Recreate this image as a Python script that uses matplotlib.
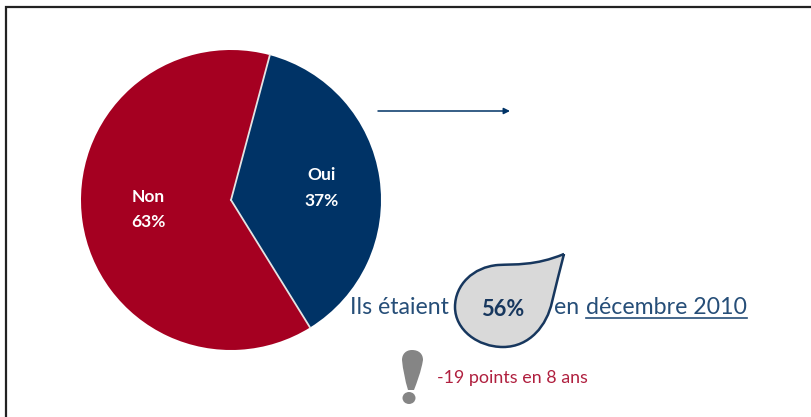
import numpy as np
import matplotlib
matplotlib.use("Agg")
import matplotlib.pyplot as plt
from matplotlib.path import Path
from matplotlib.patches import PathPatch, Ellipse, FancyArrowPatch

plt.rcParams['font.family'] = ['Lato', 'DejaVu Sans']

W, H = 812, 417
labels = ["Oui", "Non"]
values = [37, 63]
colors = ["#003366", "#A50021"]
drop_value = "56%"
before_text = "Ils étaient"
after_text = "en"
date_text = "décembre 2010"
note_text = "-19 points en 8 ans"

NAVY = "#003366"


def Y(y):
    # picture pixels count from the top
    return H - y


fig = plt.figure(figsize=(W / 100, H / 100), dpi=100)
ax = fig.add_axes([0, 0, 1, 1])

cx, cy, radius = 231, Y(200), 150
wedges, _ = ax.pie(values, radius=radius, center=(cx, cy), startangle=75,
                   counterclock=False, colors=colors)
ax.set_xlim(0, W)
ax.set_ylim(0, H)
ax.set_aspect("auto")
ax.axis("off")

# light line between the slices only, none on the outer edge
for w in wedges:
    a = np.deg2rad(w.theta1)
    ax.plot([cx, cx + radius * np.cos(a)], [cy, cy + radius * np.sin(a)], color="#e4e4e4", lw=1.3)

# slice labels
label_pos = [(322, 188), (148, 209.5)]
for lab, val, (x, y) in zip(labels, values, label_pos):
    ax.text(x, Y(y), f"{lab}\n{val}%", color="white", fontsize=12.5, fontweight="bold",
            ha="center", va="center", linespacing=1.7)

# frame round the slide, open on the right and at the bottom
ax.plot([6, 6, W], [0, Y(7), Y(7)], color="#222222", lw=1.6, solid_joinstyle="miter")

# arrow
ax.add_patch(FancyArrowPatch((378, Y(111)), (510, Y(111)), arrowstyle="-|>", mutation_scale=9,
                             color=NAVY, lw=1.1, shrinkA=0, shrinkB=0))

# drop
verts = [(564, 254),
         (535, 266), (515, 264), (498, 265),
         (473, 267), (455, 285), (455, 307),
         (455, 330), (478, 347), (503, 347),
         (530, 347), (547, 325), (552, 302),
         (556, 285), (560, 270), (564, 254)]
codes = [Path.MOVETO] + [Path.CURVE4] * 15
verts = [(x, Y(y)) for x, y in verts]
ax.add_patch(PathPatch(Path(verts, codes), facecolor="#D9D9D9", edgecolor="#17375E", lw=1.8))
ax.text(503, Y(309), drop_value, color="#17375E", fontsize=15.7, fontweight="bold",
        ha="center", va="center")

# sentence round the drop
ax.text(350, Y(314), before_text, color="#264E78", fontsize=16.7, ha="left", va="baseline")
ax.text(554, Y(314), after_text, color="#264E78", fontsize=16.7, ha="left", va="baseline")
ax.text(586, Y(314), date_text, color="#264E78", fontsize=16.7, ha="left", va="baseline")
ax.plot([586, 747], [Y(317.5), Y(317.5)], color="#264E78", lw=1.2)

# exclamation mark
bang = [(402, 360), (402, 354), (406, 350), (412, 350),
        (419, 350), (423, 354), (423, 360),
        (421, 372), (417, 382), (414, 390),
        (411, 390), (408, 390),
        (405, 380), (403, 370), (402, 360)]
bang_codes = [Path.MOVETO] + [Path.CURVE4] * 9 + [Path.LINETO] * 2 + [Path.CURVE4] * 3
ax.add_patch(PathPatch(Path([(x, Y(y)) for x, y in bang], bang_codes), facecolor="#858585", edgecolor="none"))
ax.add_patch(Ellipse((409, Y(398)), 13, 12, facecolor="#858585", edgecolor="none"))

ax.text(437, Y(383), note_text, color="#B0203F", fontsize=12.9, ha="left", va="baseline")

fig.savefig("out.png", dpi=100)
